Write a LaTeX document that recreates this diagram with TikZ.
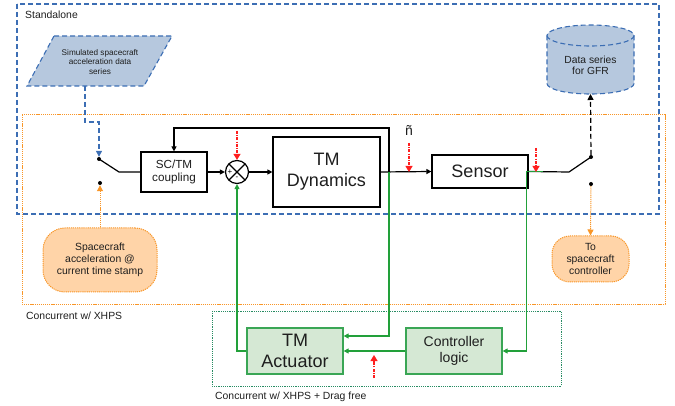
\documentclass[tikz,border=0pt]{standalone}
\usepackage{fontspec}
\setmainfont{Liberation Sans}
\usetikzlibrary{arrows.meta,calc}
\definecolor{bluedash}{RGB}{60,110,180}
\definecolor{bluefill}{RGB}{182,200,222}
\definecolor{orangeln}{RGB}{248,150,40}
\definecolor{orangefill}{RGB}{255,212,168}
\definecolor{greenln}{RGB}{34,160,58}
\definecolor{greenbox}{RGB}{58,166,85}
\definecolor{greenfill}{RGB}{213,232,212}
\definecolor{greenframe}{RGB}{40,140,100}
\definecolor{redln}{RGB}{255,30,30}
\definecolor{txt}{RGB}{30,30,30}
\begin{document}
\begin{tikzpicture}[x=1pt,y=-1pt,
  tip/.style={-{Triangle[length=5pt,width=5pt]}},
  blueframe/.style={draw=bluedash,line width=1.1pt,dash pattern=on 5pt off 3pt},
  orangeframe/.style={draw=orangeln,line width=1pt,dash pattern=on 1.2pt off 0.9pt},
  greenframe/.style={draw=greenframe,line width=1pt,dash pattern=on 1.2pt off 1pt},
  blkbox/.style={draw=black,line width=1.2pt,fill=white,align=center,text=txt,inner sep=0pt},
  grnbox/.style={draw=greenbox,line width=1.3pt,fill=greenfill,align=center,text=txt,inner sep=0pt},
  orbox/.style={draw=orangeln,line width=1pt,dash pattern=on 1.2pt off 0.9pt,fill=orangefill,align=center,text=txt,inner sep=0pt},
  orarrow/.style={draw=orangeln,line width=1pt,dash pattern=on 1.2pt off 0.9pt,-{Triangle[length=6pt,width=6pt]}},
  blk/.style={draw=black,line width=1.2pt},
  grn/.style={draw=greenln,line width=1.2pt},
  reddash/.style={draw=redln,line width=1.1pt,dash pattern=on 3pt off 1.2pt on 1pt off 1.2pt,-{Triangle[length=6pt,width=7pt]}},
  dotnode/.style={circle,fill=black,inner sep=0pt,minimum size=4pt},
  lbl/.style={text=txt,font=\fontsize{10.4}{12}\selectfont,inner sep=0pt,anchor=west}
]
\useasboundingbox (0,0) rectangle (675,406);

% frames
\draw[blueframe] (17,4) rectangle (659,214);
\draw[orangeframe] (22,115) rectangle (665,304);
\draw[greenframe] (212,311) rectangle (561,386);
\node[lbl] (lstand) at (25,15) {Standalone};
\node[lbl] (lconc) at (26,316) {Concurrent w/ XHPS};
\node[lbl] (lconcd) at (215,397) {Concurrent w/ XHPS + Drag free};

% parallelogram
\draw[blueframe,fill=bluefill] (54,36) -- (172,36) -- (144,86) -- (27,86) -- cycle;
\node[align=center,text=txt,font=\fontsize{8.2}{9.3}\selectfont,inner sep=0pt] (para) at (100,62) {Simulated spacecraft\\acceleration data\\series};
\coordinate (parabot) at (85,86);

% cylinder
\fill[bluefill] (547,35.5) -- (547,83.5) arc[start angle=180,end angle=0,x radius=43.5,y radius=10.5] -- (634,35.5) arc[start angle=0,end angle=-180,x radius=43.5,y radius=10.5] -- cycle;
\draw[blueframe] (547,35.5) -- (547,83.5) arc[start angle=180,end angle=0,x radius=43.5,y radius=10.5] -- (634,35.5) arc[start angle=0,end angle=-180,x radius=43.5,y radius=10.5];
\draw[blueframe] (547,35.5) arc[start angle=180,end angle=0,x radius=43.5,y radius=10.5];
\node[align=center,text=txt,font=\fontsize{10.3}{11.5}\selectfont,inner sep=0pt] (cyl) at (590.5,65.5) {Data series\\for GFR};
\coordinate (cylbot) at (590.5,94);

% blocks
\node[blkbox,minimum width=66pt,minimum height=40pt,font=\fontsize{11.7}{13.5}\selectfont] (sctm) at (174,172) {SC/TM\\coupling};
\node[draw=black,line width=1.2pt,circle,minimum size=23pt,inner sep=0pt] (sum) at (237,172) {};
\draw[line width=1.1pt] ($(sum.center)+(-8,-8)$) -- ($(sum.center)+(8,8)$);
\draw[line width=1.1pt] ($(sum.center)+(-8,8)$) -- ($(sum.center)+(8,-8)$);
\node[font=\fontsize{8}{8}\selectfont,inner sep=0pt] (splus) at (230,172) {+};
\node[font=\fontsize{8}{8}\selectfont,inner sep=0pt] (sminus) at (237,178.5) {-};
\node[blkbox,minimum width=107pt,minimum height=70pt,font=\fontsize{18}{21}\selectfont] (dyn) at (326.5,172) {TM\\Dynamics};
\node[blkbox,minimum width=96pt,minimum height=33pt,font=\fontsize{18}{21}\selectfont] (sensor) at (480,171.5) {Sensor};
\node[grnbox,minimum width=96pt,minimum height=46pt,font=\fontsize{18}{21}\selectfont] (act) at (295,351) {TM\\Actuator};
\node[grnbox,minimum width=96pt,minimum height=46pt,font=\fontsize{14}{16}\selectfont] (ctrl) at (454,351) {Controller\\logic};
\node[orbox,minimum width=114pt,minimum height=64pt,rounded corners=22pt,font=\fontsize{10.4}{12.2}\selectfont] (scacc) at (100,260) {Spacecraft\\acceleration @\\current time stamp};
\node[orbox,minimum width=77pt,minimum height=46pt,rounded corners=18pt,font=\fontsize{10.4}{12}\selectfont] (tosc) at (590.5,259) {To\\spacecraft\\controller};
\node[text=txt,font=\fontsize{14}{14}\selectfont,inner sep=0pt] (ntilde) at (409,130) {ñ};

% switch dots
\node[dotnode] (sw1a) at (99,159) {};
\node[dotnode] (sw1b) at (100,183) {};
\node[dotnode] (sw2a) at (591,157) {};
\node[dotnode] (sw2b) at (591,184) {};
\coordinate (sw1k) at (119,172);
\coordinate (sw2k) at (569,172);
\coordinate (fbR) at (389,172);

% connectors
\draw[draw=bluedash,line width=1.1pt,dash pattern=on 5pt off 3pt,-{Triangle[length=6pt,width=6pt]}] (parabot) -- (85,122) -- (99,122) -- (sw1a);
\draw[blk] (sw1a.center) -- (sw1k) -- (sctm.west);
\draw[orarrow] (scacc.north) -- (sw1b);
\draw[blk,tip] (sctm.east) -- (sum.west);
\draw[blk,tip] (sum.east) -- (dyn.west);
\draw[blk,tip] (dyn.east) -- (sensor.west);
\draw[blk,tip] (fbR) -- (389,128) -| (sctm.north);
\draw[grn,tip] (fbR) |- ([yshift=15pt]act.east);
\draw[grn,tip] (ctrl.west) -- (act.east);
\draw[grn,tip] (act.west) -| (sum.south);
\draw[blk] (sensor.east) -- (sw2k) -- (sw2a.center);
\draw[grn,tip] ([xshift=14pt]sensor.east) -- ([xshift=-2pt]sensor.east) |- (ctrl.east);
\draw[draw=black,line width=1.2pt,dash pattern=on 5pt off 3pt,-{Triangle[length=6pt,width=6pt]}] (sw2a) -- (cylbot);
\draw[orarrow] (sw2b) -- (tosc.north);

% red disturbances
\coordinate (r1) at (237,131);
\coordinate (r2) at (409,143);
\coordinate (r2e) at (409,172);
\coordinate (r3) at (536,148);
\coordinate (r3e) at (536,172);
\coordinate (r4) at (374,378);
\coordinate (r4e) at (374,355);
\draw[reddash] (r1) -- (sum.north);
\draw[reddash] (r2) -- (r2e);
\draw[reddash] (r3) -- (r3e);
\draw[reddash] (r4) -- (r4e);
\end{tikzpicture}
\end{document}
